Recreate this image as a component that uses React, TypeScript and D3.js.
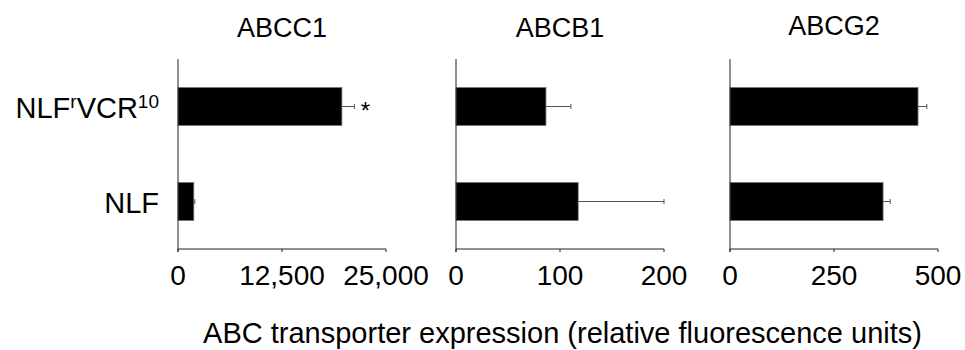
import React from "react";
import * as d3 from "d3";

const categories = ["NLFrVCR10", "NLF"];
const categoryParts: { text: string; sup: boolean }[][] = [
  [
    { text: "NLF", sup: false },
    { text: "r", sup: true },
    { text: "VCR", sup: false },
    { text: "10", sup: true },
  ],
  [{ text: "NLF", sup: false }],
];

const panelNames = ["ABCC1", "ABCB1", "ABCG2"];
const panelMax = [25000, 200, 500];
const panelTicks = [
  [0, 12500, 25000],
  [0, 100, 200],
  [0, 250, 500],
];
const panelTickLabels = [
  ["0", "12,500", "25,000"],
  ["0", "100", "200"],
  ["0", "250", "500"],
];
const abcc1Values = [19700, 1900];
const abcc1Errors = [1500, 120];
const abcb1Values = [86.5, 117.5];
const abcb1Errors = [24, 82.5];
const abcg2Values = [452, 368];
const abcg2Errors = [21, 17];
const panelValues = [abcc1Values, abcb1Values, abcg2Values];
const panelErrors = [abcc1Errors, abcb1Errors, abcg2Errors];
const significance = [["*", ""], ["", ""], ["", ""]];

const xAxisTitle = "ABC transporter expression (relative fluorescence units)";

const W = 965;
const H = 350;
const panelLeft = [178, 456, 730];
const panelWidth = 208;
const plotTop = 59;
const plotBottom = 249;
const FONT = "'Liberation Sans', Arial, Helvetica, sans-serif";

export default function App() {
  const y = d3
    .scaleBand<string>()
    .domain(categories)
    .range([plotTop, plotBottom])
    .paddingInner(0.6)
    .paddingOuter(0.3);

  return (
    <svg
      width={W}
      height={H}
      viewBox={`0 0 ${W} ${H}`}
      style={{ position: "absolute", left: 0, top: 0, background: "#fff" }}
      fontFamily={FONT}
    >
      <rect x={0} y={0} width={W} height={H} fill="#fff" />
      {/* category labels */}
      {categories.map((c, i) => {
        const cy = (y(c) as number) + y.bandwidth() / 2;
        return (
          <text
            key={c}
            x={159}
            y={cy + 11}
            textAnchor="end"
            fontSize={29}
            fill="#000"
          >
            {categoryParts[i].map((p, j) =>
              p.sup ? (
                <tspan key={j} fontSize={19} dy={-9.5}>
                  {p.text}
                </tspan>
              ) : (
                <tspan key={j} dy={j > 0 && categoryParts[i][j - 1].sup ? 9.5 : 0}>
                  {p.text}
                </tspan>
              )
            )}
          </text>
        );
      })}
      {panelNames.map((name, pi) => {
        const x = d3
          .scaleLinear()
          .domain([0, panelMax[pi]])
          .range([panelLeft[pi], panelLeft[pi] + panelWidth]);
        const x0 = x(0);
        return (
          <g key={name}>
            <text
              x={(x(0) + x(panelMax[pi])) / 2}
              y={pi === 2 ? 35 : 37}
              textAnchor="middle"
              fontSize={27}
              fill="#000"
            >
              {name}
            </text>
            {categories.map((c, i) => {
              const by = y(c) as number;
              const bh = y.bandwidth();
              const v = panelValues[pi][i];
              const e = panelErrors[pi][i];
              const cy = by + bh / 2;
              return (
                <g key={c}>
                  <line
                    x1={x(v)}
                    x2={x(v + e)}
                    y1={cy}
                    y2={cy}
                    stroke="#555"
                    strokeWidth={1}
                  />
                  <line
                    x1={x(v + e)}
                    x2={x(v + e)}
                    y1={cy - 2.5}
                    y2={cy + 2.5}
                    stroke="#555"
                    strokeWidth={1}
                  />
                  <rect
                    x={x0}
                    y={by}
                    width={x(v) - x0}
                    height={bh}
                    fill="#000"
                    stroke="#777"
                    strokeWidth={0.8}
                  />
                  {significance[pi][i] && (
                    <text
                      x={x(v + e) + 11}
                      y={cy + 12}
                      textAnchor="middle"
                      fontSize={24}
                      fill="#000"
                    >
                      {significance[pi][i]}
                    </text>
                  )}
                </g>
              );
            })}
            {/* axes */}
            <line
              x1={x0}
              x2={x0}
              y1={plotTop}
              y2={plotBottom + 3}
              stroke="#222"
              strokeWidth={1}
            />
            <line
              x1={x0}
              x2={x(panelMax[pi])}
              y1={plotBottom}
              y2={plotBottom}
              stroke="#222"
              strokeWidth={1}
            />
            {panelTicks[pi].map((t, ti) => (
              <g key={t}>
                <line
                  x1={x(t)}
                  x2={x(t)}
                  y1={plotBottom}
                  y2={plotBottom + 3}
                  stroke="#222"
                  strokeWidth={1}
                />
                <text
                  x={x(t)}
                  y={plotBottom + 36}
                  textAnchor="middle"
                  fontSize={28}
                  fill="#000"
                >
                  {panelTickLabels[pi][ti]}
                </text>
              </g>
            ))}
          </g>
        );
      })}
      <text x={562.5} y={343} textAnchor="middle" fontSize={29} fill="#000">
        {xAxisTitle}
      </text>
    </svg>
  );
}
